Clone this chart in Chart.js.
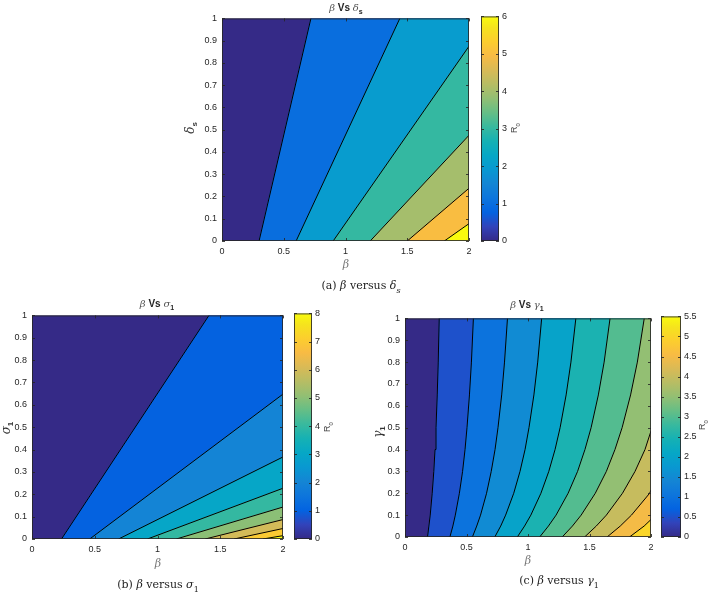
<!DOCTYPE html>
<html>
<head>
<meta charset="utf-8">
<script src="https://cdn.jsdelivr.net/npm/chart.js@4.4.0/dist/chart.umd.min.js"></script>
<style>
  body { margin: 0; background: #fff; }
  #page { position: relative; width: 709px; height: 593px; overflow: hidden; }
  canvas { position: absolute; }
  .txt { position: absolute; white-space: nowrap; color: #262626; line-height: 1; transform: translate(-50%, -50%); }
  .rot { transform: translate(-50%, -50%) rotate(-90deg); }
  .ttl { font: bold 10px "Liberation Sans", Arial, sans-serif; }
  .ttl i { font: italic 10px "DejaVu Serif", serif; color: #555; }
  .ttl sub { font-size: 7px; }
  .xl { font: italic 11px "DejaVu Serif", serif; color: #777; }
  .yl { font: italic 12px "DejaVu Serif", serif; color: #333; }
  .yl sub { font: bold 8px "Liberation Sans", Arial, sans-serif; font-style: normal; }
  .cb { font: 9px "Liberation Sans", Arial, sans-serif; color: #444; }
  .cb sub { font-size: 6px; }
  .cap { font: 11px "DejaVu Serif", serif; color: #222; }
  .cap sub { font-size: 8px; }
</style>
</head>
<body>
<div id="page">
  <canvas id="plotA"></canvas><canvas id="barA"></canvas>
  <canvas id="plotB"></canvas><canvas id="barB"></canvas>
  <canvas id="plotC"></canvas><canvas id="barC"></canvas>

  <div class="txt ttl" style="left:346px;top:8px"><i>β</i> Vs <i>δ</i><sub>s</sub></div>
  <div class="txt ttl" style="left:157px;top:304px"><i>β</i> Vs <i>σ</i><sub>1</sub></div>
  <div class="txt ttl" style="left:527px;top:305px"><i>β</i> Vs <i>γ</i><sub>1</sub></div>

  <div class="txt xl" style="left:346px;top:264px">β</div>
  <div class="txt xl" style="left:158px;top:563px">β</div>
  <div class="txt xl" style="left:528px;top:560px">β</div>

  <div class="txt yl rot" style="left:191px;top:128px">δ<sub>s</sub></div>
  <div class="txt yl rot" style="left:7px;top:428px">σ<sub>1</sub></div>
  <div class="txt yl rot" style="left:379px;top:432px">γ<sub>1</sub></div>

  <div class="txt cb rot" style="left:515px;top:128px">R<sub>0</sub></div>
  <div class="txt cb rot" style="left:328px;top:427px">R<sub>0</sub></div>
  <div class="txt cb rot" style="left:703px;top:425px">R<sub>0</sub></div>

  <div class="txt cap" style="left:361px;top:287px">(a) <i>β</i> versus <i>δ<sub>s</sub></i></div>
  <div class="txt cap" style="left:158px;top:586px">(b) <i>β</i> versus <i>σ</i><sub>1</sub></div>
  <div class="txt cap" style="left:559px;top:582px">(c) <i>β</i> versus <i>γ</i><sub>1</sub></div>
</div>
<script>
// tick labels
const betaTicks = [0, 0.5, 1, 1.5, 2];
const paramTicks = [0, 0.1, 0.2, 0.3, 0.4, 0.5, 0.6, 0.7, 0.8, 0.9, 1];
const aBarTicks = [0, 1, 2, 3, 4, 5, 6];
const bBarTicks = [0, 1, 2, 3, 4, 5, 6, 7, 8];
const cBarTicks = [0, 0.5, 1, 1.5, 2, 2.5, 3, 3.5, 4, 4.5, 5, 5.5];

// contour levels of R0 and colour range
const aLevels = [1, 2, 3, 4, 5, 6];
const bLevels = [1, 2, 3, 4, 5, 6, 7, 8];
const cLevels = [0.5, 1, 1.5, 2, 2.5, 3, 3.5, 4, 4.5, 5];
const aMax = 6, bMax = 8, cMax = 5.5;

// (a) straight contours: beta at delta_s = 0, and the point where they leave the plot
const aBottomBeta = [0.30, 0.60, 0.90, 1.20, 1.50, 1.80];
const aEndBeta = [0.72, 1.44, 2, 2, 2, 2];
const aEndDelta = [1, 1, 0.875, 0.475, 0.237, 0.078];

// (b) straight contours: beta at sigma_1 = 0, and exit point
const bBottomBeta = [0.235, 0.46, 0.69, 0.92, 1.15, 1.38, 1.61, 1.84];
const bEndBeta = [1.41, 2, 2, 2, 2, 2, 2, 2];
const bEndSigma = [1, 0.648, 0.367, 0.227, 0.143, 0.087, 0.047, 0.015];

// (c) curved contours: beta at each gamma_1 value, exit gamma on the right edge
const cGamma = [0, 0.05, 0.1, 0.2, 0.3, 0.4, 0.5, 0.65, 0.8, 1];
const cCurves = [
  [0.183, 0.194, 0.205, 0.221, 0.234, 0.244, 0.252, 0.262, 0.270, 0.278],
  [0.365, 0.389, 0.409, 0.442, 0.468, 0.488, 0.504, 0.524, 0.540, 0.556],
  [0.548, 0.583, 0.614, 0.663, 0.701, 0.732, 0.756, 0.786, 0.809, 0.833],
  [0.730, 0.778, 0.818, 0.884, 0.935, 0.976, 1.008, 1.048, 1.079, 1.111],
  [0.913, 0.972, 1.023, 1.105, 1.169, 1.220, 1.261, 1.310, 1.349, 1.389],
  [1.095, 1.166, 1.228, 1.326, 1.403, 1.463, 1.513, 1.572, 1.619, 1.667],
  [1.278, 1.361, 1.432, 1.547, 1.637, 1.707, 1.765, 1.834, 1.889, 1.945],
  [1.460, 1.555, 1.637, 1.768, 1.870, 1.951],
  [1.643, 1.750, 1.841, 1.989],
  [1.825, 1.944]
];
const cExitGamma = [null, null, null, null, null, null, null, 0.485, 0.215, 0.08];

// parula colormap stops
const parulaStops = [
  [53,42,135],[50,67,186],[3,99,225],[13,117,220],[20,133,212],[9,152,209],
  [6,167,198],[21,177,180],[56,185,158],[101,190,134],[146,191,115],[183,189,100],
  [217,186,86],[248,187,68],[252,206,46],[245,228,29],[249,251,14]
];
const stopPos = parulaStops.map((c, i) => Math.min(1, i * 4 / 63));

function parula(t) {
  t = Math.max(0, Math.min(1, t));
  let i = 0;
  while (i < stopPos.length - 2 && t > stopPos[i + 1]) i++;
  const f = (t - stopPos[i]) / (stopPos[i + 1] - stopPos[i]);
  const c = parulaStops[i].map((v, k) => Math.round(v + (parulaStops[i + 1][k] - v) * f));
  return `rgb(${c[0]},${c[1]},${c[2]})`;
}

const tickFont = { family: 'Liberation Sans', size: 9 };
const tickColor = '#262626';
const fmt = v => String(Math.round(v * 100) / 100);

// box round the plot and MATLAB style inner ticks
const frame = {
  id: 'frame',
  afterDraw(chart) {
    const { ctx, chartArea: a, scales } = chart;
    ctx.save();
    ctx.strokeStyle = 'rgba(38,38,38,0.85)';
    ctx.lineWidth = 1;
    ctx.beginPath();
    for (const id of ['x', 'y']) {
      const s = scales[id];
      if (!s || !s.options.display) continue;
      s.ticks.forEach(t => {
        const p = Math.round(s.getPixelForValue(t.value)) + 0.5;
        if (s.isHorizontal()) {
          ctx.moveTo(p, a.bottom); ctx.lineTo(p, a.bottom - 3);
          ctx.moveTo(p, a.top); ctx.lineTo(p, a.top + 3);
        } else {
          ctx.moveTo(a.left, p); ctx.lineTo(a.left + 3, p);
          ctx.moveTo(a.right, p); ctx.lineTo(a.right - 3, p);
        }
      });
    }
    ctx.stroke();
    ctx.strokeRect(a.left + 0.5, a.top + 0.5, a.right - a.left - 1, a.bottom - a.top - 1);
    ctx.restore();
  }
};

function place(cv, left, top, w, h) {
  cv.width = w; cv.height = h;
  cv.style.left = left + 'px'; cv.style.top = top + 'px';
}

function makePlot(id, box, lines, levels, max) {
  const cv = document.getElementById(id);
  place(cv, box.l - 40, box.t - 8, box.w + 50, box.h + 32);
  const datasets = [{
    data: [{x: 0, y: 0}, {x: 0, y: 1}, {x: 2, y: 1}, {x: 2, y: 0}],
    backgroundColor: parula(0), borderColor: parula(0), borderWidth: 1,
    fill: 'shape', order: 100
  }];
  lines.forEach((pts, i) => {
    const poly = pts.slice();
    const last = pts[pts.length - 1];
    if (last.x < 2) poly.push({x: 2, y: 1});
    poly.push({x: 2, y: 0});
    const col = parula(levels[i] / max);
    datasets.push({ data: poly, backgroundColor: col, borderColor: col, borderWidth: 1, fill: 'shape', order: 99 - i });
    datasets.push({ data: pts, borderColor: '#000', borderWidth: 1, fill: false, order: 0 });
  });
  new Chart(cv, {
    type: 'line',
    data: { datasets },
    options: {
      responsive: false, animation: false, events: [],
      layout: { padding: { top: 8, right: 10 } },
      plugins: { legend: { display: false }, tooltip: { enabled: false } },
      elements: { point: { radius: 0 }, line: { tension: 0 } },
      scales: {
        x: {
          type: 'linear', min: 0, max: 2,
          afterBuildTicks: s => { s.ticks = betaTicks.map(v => ({ value: v })); },
          afterFit: s => { s.height = 24; },
          grid: { display: false, drawTicks: false }, border: { display: false },
          ticks: { font: tickFont, color: tickColor, padding: 5, maxRotation: 0, autoSkip: false, callback: fmt }
        },
        y: {
          type: 'linear', min: 0, max: 1,
          afterBuildTicks: s => { s.ticks = paramTicks.map(v => ({ value: v })); },
          afterFit: s => { s.width = 40; },
          grid: { display: false, drawTicks: false }, border: { display: false },
          ticks: { font: tickFont, color: tickColor, padding: 5, autoSkip: false, callback: fmt }
        }
      }
    },
    plugins: [frame]
  });
}

function makeBar(id, box, max, ticks) {
  const cv = document.getElementById(id);
  place(cv, box.l, box.t - 8, box.w + 30, box.h + 32);
  new Chart(cv, {
    type: 'bar',
    data: {
      labels: ['R0'],
      datasets: [{
        data: [max], borderWidth: 0, barPercentage: 1, categoryPercentage: 1,
        backgroundColor: c => {
          const a = c.chart.chartArea;
          if (!a) return parula(0);
          const g = c.chart.ctx.createLinearGradient(0, a.bottom, 0, a.top);
          parulaStops.forEach((s, i) => g.addColorStop(stopPos[i], `rgb(${s[0]},${s[1]},${s[2]})`));
          return g;
        }
      }]
    },
    options: {
      responsive: false, animation: false, events: [],
      layout: { padding: { top: 8, bottom: 24 } },
      plugins: { legend: { display: false }, tooltip: { enabled: false } },
      scales: {
        x: { display: false },
        y: {
          position: 'right', min: 0, max,
          afterBuildTicks: s => { s.ticks = ticks.map(v => ({ value: v })); },
          afterFit: s => { s.width = 30; },
          grid: { display: false, drawTicks: false }, border: { display: false },
          ticks: { font: tickFont, color: tickColor, padding: 3, autoSkip: false, callback: fmt }
        }
      }
    },
    plugins: [frame]
  });
}

const aLines = aBottomBeta.map((b, i) => [{x: b, y: 0}, {x: aEndBeta[i], y: aEndDelta[i]}]);
const bLines = bBottomBeta.map((b, i) => [{x: b, y: 0}, {x: bEndBeta[i], y: bEndSigma[i]}]);
const cLines = cCurves.map((row, i) => {
  const pts = row.map((b, j) => ({x: b, y: cGamma[j]}));
  if (cExitGamma[i] !== null) pts.push({x: 2, y: cExitGamma[i]});
  return pts;
});

makePlot('plotA', {l: 222, t: 16, w: 247, h: 225}, aLines, aLevels, aMax);
makeBar('barA', {l: 481, t: 16, w: 18, h: 225}, aMax, aBarTicks);
makePlot('plotB', {l: 32, t: 313, w: 251, h: 226}, bLines, bLevels, bMax);
makeBar('barB', {l: 294, t: 313, w: 18, h: 226}, bMax, bBarTicks);
makePlot('plotC', {l: 405, t: 316, w: 246, h: 221}, cLines, cLevels, cMax);
makeBar('barC', {l: 661, t: 316, w: 20, h: 221}, cMax, cBarTicks);
</script>
</body>
</html>
